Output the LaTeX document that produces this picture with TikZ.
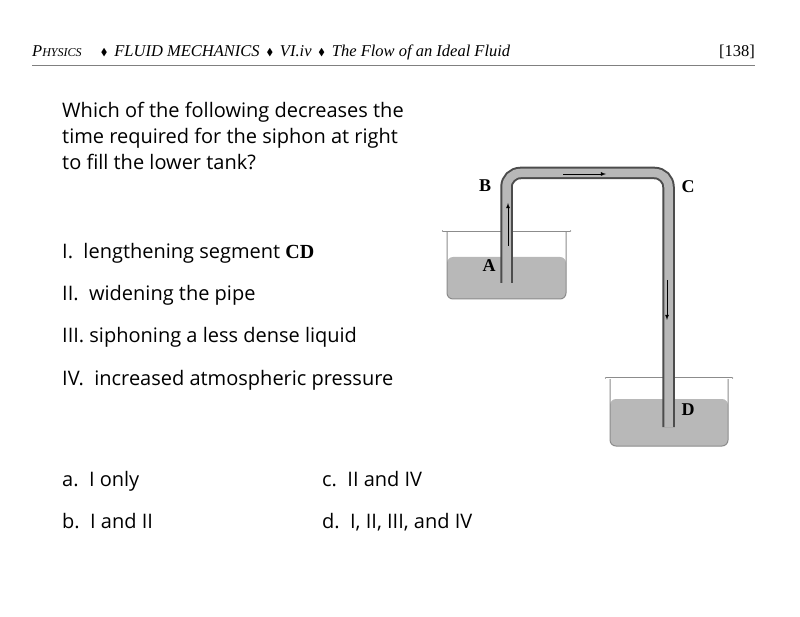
\documentclass[tikz,border=0pt]{standalone}
\usepackage{amssymb}
\usepackage{fontspec}
\setmainfont{Open Sans}
\newfontfamily\headfont{Liberation Serif}
\usetikzlibrary{positioning}
\definecolor{liquid}{gray}{0.72}
\definecolor{pipewall}{gray}{0.3}
\definecolor{glass}{gray}{0.55}
\tikzset{
  qtext/.style={anchor=base west, font=\fontsize{20}{24}\selectfont, inner sep=0pt},
  ptlabel/.style={font=\headfont\bfseries\fontsize{18}{20}\selectfont},
  flow/.style={-latex, line width=0.8pt},
}
\newcommand{\dmd}{\,\raisebox{1pt}{\scalebox{0.6}{$\blacklozenge$}}\,}
\begin{document}
\begin{tikzpicture}[x=1pt,y=-1pt]
  \useasboundingbox (0,0) rectangle (800,617);
  % header
  \node[anchor=base west, inner sep=0pt, font=\headfont\itshape\fontsize{16.5}{18}\selectfont] (head) at (32,57)
    {P{\fontsize{12}{13}\selectfont HYSICS}\quad\dmd\ FLUID MECHANICS\ \dmd\ VI.iv\ \dmd\ The Flow of an Ideal Fluid};
  \node[anchor=base east, inner sep=0pt, font=\headfont\fontsize{16.5}{18}\selectfont] (page) at (755,57) {[138]};
  \draw[gray, line width=1pt] (32,66) -- (755,66);
  % question
  \node[qtext] (q1) at (62,118) {Which of the following decreases the};
  \node[qtext] (q2) at (62,144) {time required for the siphon at right};
  \node[qtext] (q3) at (62,170) {to fill the lower tank?};
  \node[qtext] (i1) at (62,259) {I.\ \ lengthening segment {\headfont\bfseries CD}};
  \node[qtext] (i2) at (62,301) {II.\ \ widening the pipe};
  \node[qtext] (i3) at (62,343) {III.\ siphoning a less dense liquid};
  \node[qtext] (i4) at (62,385) {IV.\ \ increased atmospheric pressure};
  \node[qtext] (a) at (62,486) {a.\ \ I only};
  \node[qtext] (b) at (62,528) {b.\ \ I and II};
  \node[qtext] (c) at (322,486) {c.\ \ II and IV};
  \node[qtext] (d) at (322,528) {d.\ \ I, II, III, and IV};
  % tanks
  \fill[liquid, rounded corners=6pt] (447,257) -- (447,299) -- (566,299) -- (566,257) -- cycle;
  \draw[glass, line width=1pt, rounded corners=6pt] (447,231) -- (447,299) -- (566,299) -- (566,231);
  \draw[glass, line width=2.5pt, line cap=round] (443,231) -- (570,231);
  \draw[white, line width=1pt] (443,231) -- (570,231);
  \fill[liquid, rounded corners=6pt] (610,399) -- (610,446) -- (728,446) -- (728,399) -- cycle;
  \draw[glass, line width=1pt, rounded corners=6pt] (610,378) -- (610,446) -- (728,446) -- (728,378);
  \draw[glass, line width=2.5pt, line cap=round] (606,378) -- (732,378);
  \draw[white, line width=1pt] (606,378) -- (732,378);
  % pipe
  \coordinate (pa) at (506.5,283);
  \coordinate (pb) at (506.5,173);
  \coordinate (pc) at (668.5,173);
  \coordinate (pd) at (668.5,427);
  \draw[pipewall, line width=12.5pt, rounded corners=14pt] (pa) -- (pb) -- (pc) -- (pd);
  \draw[liquid, line width=8.5pt, rounded corners=14pt] (pa) -- (pb) -- (pc) -- (pd);
  % flow arrows
  \draw[flow] (508,246) -- (508,203);
  \draw[flow] (563,174) -- (606,174);
  \draw[flow] (667,280) -- (667,320);
  % point labels
  \node[ptlabel] (lb) at (485,186) {B};
  \node[ptlabel] (lc) at (688,187) {C};
  \node[ptlabel] (la) at (489,266) {A};
  \node[ptlabel] (ld) at (688,410) {D};
\end{tikzpicture}
\end{document}
